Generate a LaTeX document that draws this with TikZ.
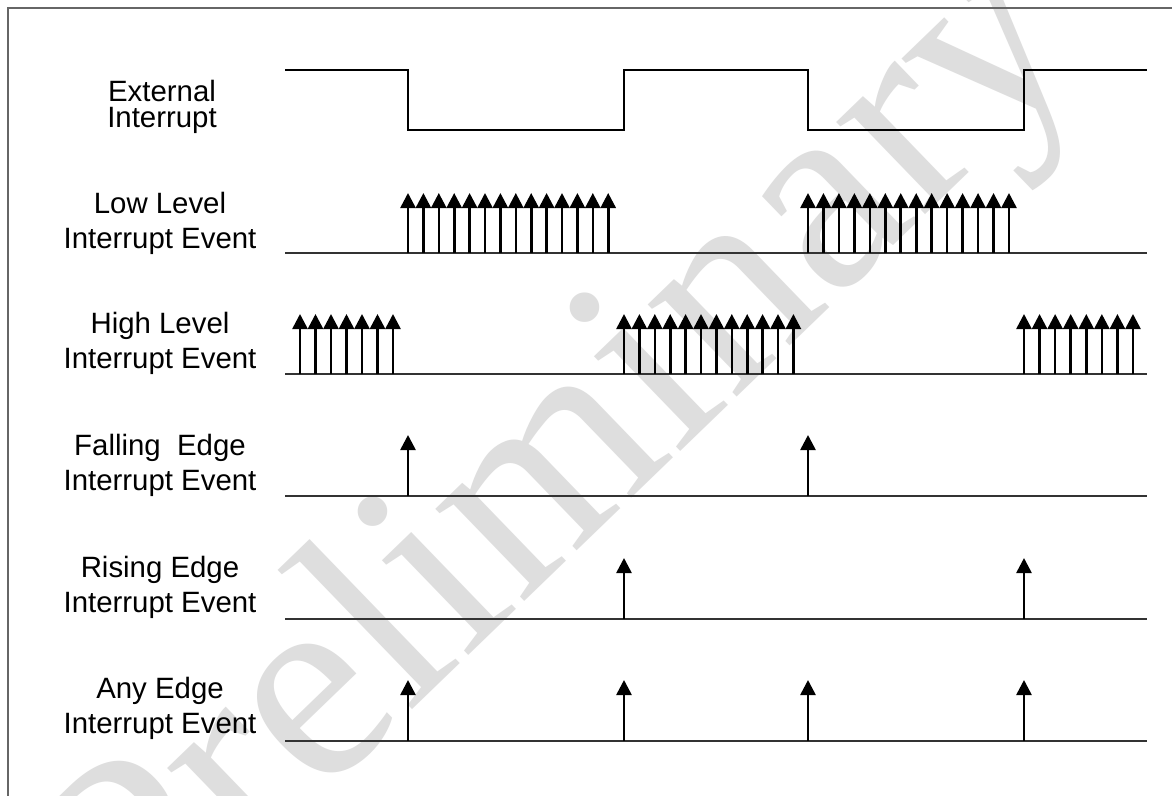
\documentclass[tikz,border=0pt]{standalone}
\usepackage{fontspec}
\setmainfont{Liberation Sans}
\newfontfamily\wmfont{Liberation Serif}
\usetikzlibrary{arrows.meta}
\tikzset{
  lbl/.style={align=center, font=\fontsize{29.5}{35}\selectfont, inner sep=0pt},
  lblext/.style={align=center, font=\fontsize{29.5}{26}\selectfont, inner sep=0pt},
  sig/.style={line width=1.4bp, black},
  baseln/.style={line width=1.3bp, black!80},
  ev/.style={line width=2.6bp, black, -{Triangle[width=15bp,length=15bp]}},
  frameln/.style={line width=1.6bp, black!60},
  wm/.style={rotate=44, text=black!13, font=\wmfont\fontsize{280}{280}\selectfont, inner sep=0pt, anchor=base west}
}
\begin{document}
\begin{tikzpicture}[x=1bp,y=-1bp]
\useasboundingbox (0,0) rectangle (1172,796);
\fill[white] (0,0) rectangle (1172,796);
% watermark
\begin{scope}
\clip (0,0) rectangle (1172,796);
\node[wm] (wmark) at (141,972) {Preliminary};
\end{scope}
% frame
\draw[frameln] (1172,8) -- (8,8) -- (8,796);
% labels
\node[lblext] (lext) at (162,107) {External\\Interrupt};
\node[lbl] (llow) at (160,223) {Low Level\\Interrupt Event};
\node[lbl] (lhigh) at (160,343) {High Level\\Interrupt Event};
\node[lbl] (lfall) at (160,465) {Falling\ \ Edge\\Interrupt Event};
\node[lbl] (lrise) at (160,587) {Rising Edge\\Interrupt Event};
\node[lbl] (lany) at (160,708) {Any Edge\\Interrupt Event};
% external interrupt waveform
\draw[sig] (285,70) -- (408,70) -- (408,130) -- (624,130) -- (624,70) -- (808,70) -- (808,130) -- (1024,130) -- (1024,70) -- (1147,70);
% baselines
\foreach \y in {253,374,496,619,741}
  \draw[baseln] (285,\y) -- (1147,\y);
% low level events
\foreach \i in {0,...,13} {
  \draw[ev] ({408+15.4*\i},253) -- ({408+15.4*\i},193);
  \draw[ev] ({808+15.46*\i},253) -- ({808+15.46*\i},193);
}
% high level events
\foreach \i in {0,...,6}
  \draw[ev] ({300+15.5*\i},374) -- ({300+15.5*\i},314);
\foreach \i in {0,...,11}
  \draw[ev] ({624+15.4*\i},374) -- ({624+15.4*\i},314);
\foreach \i in {0,...,7}
  \draw[ev] ({1024+15.57*\i},374) -- ({1024+15.57*\i},314);
% falling edge
\foreach \x in {408,808}
  \draw[ev] (\x,496) -- (\x,435);
% rising edge
\foreach \x in {624,1024}
  \draw[ev] (\x,619) -- (\x,558);
% any edge
\foreach \x in {408,624,808,1024}
  \draw[ev] (\x,741) -- (\x,680);
\end{tikzpicture}
\end{document}
